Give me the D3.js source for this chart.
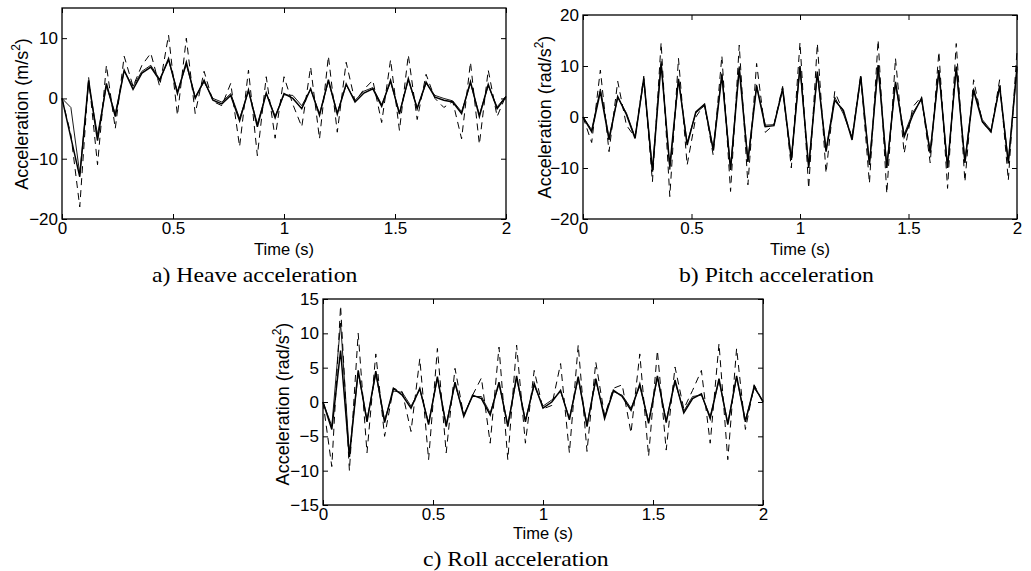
<!DOCTYPE html>
<html><head><meta charset="utf-8">
<script src="https://cdn.jsdelivr.net/npm/d3@7"></script>
<style>body{margin:0;background:#fff} svg{display:block}</style>
</head><body><svg id="chart" width="1031" height="571"></svg>
<script>
// ---- data ----
const time = [0,0.04,0.08,0.12,0.16,0.2,0.24,0.28,0.32,0.36,0.4,0.44,0.48,0.52,0.56,0.6,0.64,0.68,0.72,0.76,0.8,0.84,0.88,0.92,0.96,1,1.04,1.08,1.12,1.16,1.2,1.24,1.28,1.32,1.36,1.4,1.44,1.48,1.52,1.56,1.6,1.64,1.68,1.72,1.76,1.8,1.84,1.88,1.92,1.96,2];
const xTicks = [0,0.5,1,1.5,2];
const xTickLabels = ["0","0.5","1","1.5","2"];

const heaveTicks = [-20,-10,0,10];
const heaveMain = [0,-6.5,-13,3,-7,2.5,-3,4.7,1.5,4.2,5.2,3,6.6,0.8,6,0,3,-0.3,-0.9,0.5,-3.7,1.4,-4.7,0.9,-3.2,0.8,0,-1.7,1.6,-2.8,3.1,-2.6,2.4,-0.6,0.9,1.6,-1.3,3,-2.6,3.3,-1.7,2.7,0.2,-0.3,-0.6,-2.5,2.8,-3,2.3,-1.7,0.3];
const heaveThin = [0,-1.5,-12.5,2.5,-6,2,-2.5,4.5,2,4.5,5.5,3.2,6.3,1.2,5.6,0.3,2.7,0,-0.6,0.8,-3.3,1.2,-4.2,0.8,-2.9,0.6,0.5,-1.2,1.5,-2.5,2.8,-2.3,2.2,-0.3,1.2,1.8,-1,2.7,-2.3,3,-1.5,2.5,0.5,0,-0.4,-2.2,2.5,-2.7,2.1,-1.4,0.4];
const heaveDashed = [0,-6,-18,3.5,-11,5.5,-5,7,2,5.5,7.5,2,10.5,-2.8,10,-2.5,4.5,-0.5,-1.2,2.5,-8,4.7,-9.5,3.6,-6.6,3.6,-1,-4.7,5.2,-6.7,7,-5.6,6,-0.5,1.5,3,-4,6.4,-5.3,7.2,-3.5,4,0,-1.5,-0.5,-6.7,6,-7.6,4.7,-3,0.5];

const pitchTicks = [-20,-10,0,10,20];
const pitchMain = [0,-2.9,5,-4.5,4,0.5,-4.2,7.6,-10.7,10.5,-9.7,7.5,-5.5,1,2.5,-6.5,8.2,-10.4,9.5,-8.8,6,-1.9,-1.7,5.6,-8.4,10,-10,8.9,-6.8,3.3,1.3,-4.5,8,-9.4,10.2,-10,6.9,-3.9,0.4,3.7,-7.1,9.2,-10,9.9,-9,5.2,-0.9,-2.9,6.1,-9.1,9.9];
const pitchThin = [0,-2.5,5.5,-4,3.8,0.8,-3.9,7.2,-10.2,10.9,-10.3,7.2,-5,0.8,2.2,-6.1,8.5,-9.9,9.9,-8.3,6.3,-1.6,-1.5,5.2,-8,9.6,-9.5,8.5,-6.3,3.9,0.6,-4.1,7.6,-8.9,9.8,-9.5,6.5,-3.4,0.9,3.4,-6.6,8.8,-9.5,9.5,-8.5,5.6,-0.5,-2.6,5.8,-8.6,9.4];
const pitchDashed = [0,-5,9.2,-6.8,7,-1.6,-4,8,-12.7,14.6,-15.6,11.5,-9.4,0,2.5,-7.5,12,-14.6,14.1,-13.3,10.5,-3,-1.5,6,-10,14.6,-14,14.4,-11,5,1,-4,8.2,-13,15.1,-15,11.5,-7.1,2,4,-9,12.8,-14,14.4,-12.7,7.3,-1,-3,7.3,-12.4,13];

const rollTicks = [-15,-10,-5,0,5,10,15];
const rollMain = [0,-4,7.5,-8,4.6,-2.9,4.5,-3,2,1,-0.9,2,-3.3,3.7,-3.6,2.9,-2.1,1,0.5,-1.9,2.9,-3.6,3.8,-2.9,2.7,-0.9,0,1.7,-2.6,3.7,-3.6,3.4,-2.4,1.7,0.8,-1.2,2.6,-3.1,3.8,-3,3.2,-1.6,0.5,1.2,-2.4,3.4,-3.3,3.8,-2.9,2.3,0];
const rollThin = [0,-3.5,11.5,-7.5,4.2,-2.5,4,-2.6,1.6,1.4,-0.6,1.8,-3,3.4,-3.2,2.6,-1.8,0.8,0.8,-1.6,2.6,-3.2,3.4,-2.6,2.4,-0.6,0.3,1.5,-2.3,3.4,-3.2,3.1,-2.1,1.5,1,-0.9,2.3,-2.8,3.5,-2.7,2.9,-1.3,0.8,1,-2.1,3.1,-3,3.5,-2.6,2,0.2];
const rollDashed = [0,-9.4,14,-10,10,-7.4,7,-5,2,1.5,-4.3,6.3,-8.4,7.8,-7.4,4.9,-2,1,3.5,-6,8,-8.4,8.3,-6,4.6,-1,-0.5,5.6,-7.4,8.3,-7.2,5.8,-2,2,2.5,-4.5,7,-7.9,7.5,-7,5.1,-1,1.7,4.6,-6,8.5,-8.4,7.8,-4,2.5,0];

// ---- drawing ----
const svg = d3.select("#chart");
const SANS = "'Liberation Sans', Arial, Helvetica, sans-serif";
const SERIF = "'Liberation Serif', 'Times New Roman', serif";

function panel(o) {
  const x = d3.scaleLinear().domain([0, 2]).range([o.left, o.right]);
  const y = d3.scaleLinear().domain(o.yDomain).range([o.bottom, o.top]);
  const g = svg.append("g");

  const mk = (vals) => d3.line().x((d, i) => x(time[i])).y(d => y(d))(vals);
  g.append("path").attr("d", mk(o.dashed)).attr("fill", "none").attr("stroke", "#000")
    .attr("stroke-width", 1).attr("stroke-dasharray", "7,5");
  g.append("path").attr("d", mk(o.thin)).attr("fill", "none").attr("stroke", "#000")
    .attr("stroke-width", 0.9);
  g.append("path").attr("d", mk(o.main)).attr("fill", "none").attr("stroke", "#000")
    .attr("stroke-width", 1.5).attr("stroke-linejoin", "miter");

  const style = sel => {
    sel.select(".domain").remove();
    sel.selectAll(".tick line").attr("stroke", "#000").attr("stroke-width", 1);
    sel.selectAll("text").attr("font-family", SANS).attr("font-size", 17).attr("fill", "#000");
  };
  g.append("g").attr("transform", `translate(0,${o.bottom})`)
    .call(d3.axisBottom(x).tickValues(xTicks).tickFormat((d, i) => xTickLabels[i]).tickSize(-5).tickPadding(3))
    .call(style);
  g.append("g").attr("transform", `translate(0,${o.top})`)
    .call(d3.axisTop(x).tickValues(xTicks).tickFormat("").tickSize(-5))
    .call(style);
  g.append("g").attr("transform", `translate(${o.left},0)`)
    .call(d3.axisLeft(y).tickValues(o.yTicks).tickFormat(d3.format("d")).tickSize(-5).tickPadding(4))
    .call(style);
  g.append("g").attr("transform", `translate(${o.right},0)`)
    .call(d3.axisRight(y).tickValues(o.yTicks).tickFormat("").tickSize(-5))
    .call(style);

  g.append("rect").attr("x", o.left).attr("y", o.top)
    .attr("width", o.right - o.left).attr("height", o.bottom - o.top)
    .attr("fill", "none").attr("stroke", "#000").attr("stroke-width", 1.3);

  g.append("text").attr("x", (o.left + o.right) / 2).attr("y", o.timeY)
    .attr("text-anchor", "middle").attr("font-family", SANS).attr("font-size", 16.5).text("Time (s)");

  const yl = g.append("text")
    .attr("transform", `translate(${o.ylabelX},${o.ylabelY}) rotate(-90)`)
    .attr("text-anchor", "middle").attr("font-family", SANS).attr("font-size", 18);
  yl.append("tspan").text(o.ylabelMain);
  yl.append("tspan").attr("font-size", 12).attr("dy", -8).text("2");
  yl.append("tspan").attr("dy", 8).text(")");

  g.append("text").attr("transform", `translate(${o.titleX},${o.titleY}) scale(1.13,1)`)
    .attr("font-family", SERIF).attr("font-size", 21).text(o.title);
}

panel({left: 62, right: 506, top: 8, bottom: 219, yDomain: [-20, 15], yTicks: heaveTicks,
  main: heaveMain, thin: heaveThin, dashed: heaveDashed,
  ylabelMain: "Acceleration (m/s", ylabelX: 28, ylabelY: 114, timeY: 255,
  title: "a) Heave acceleration", titleX: 152, titleY: 282});
panel({left: 583, right: 1017, top: 15, bottom: 219, yDomain: [-20, 20], yTicks: pitchTicks,
  main: pitchMain, thin: pitchThin, dashed: pitchDashed,
  ylabelMain: "Acceleration (rad/s", ylabelX: 551, ylabelY: 117, timeY: 255,
  title: "b) Pitch acceleration", titleX: 679, titleY: 282});
panel({left: 323, right: 763, top: 299, bottom: 505, yDomain: [-15, 15], yTicks: rollTicks,
  main: rollMain, thin: rollThin, dashed: rollDashed,
  ylabelMain: "Acceleration (rad/s", ylabelX: 289, ylabelY: 404, timeY: 539,
  title: "c) Roll acceleration", titleX: 423, titleY: 566});
</script></body></html>
